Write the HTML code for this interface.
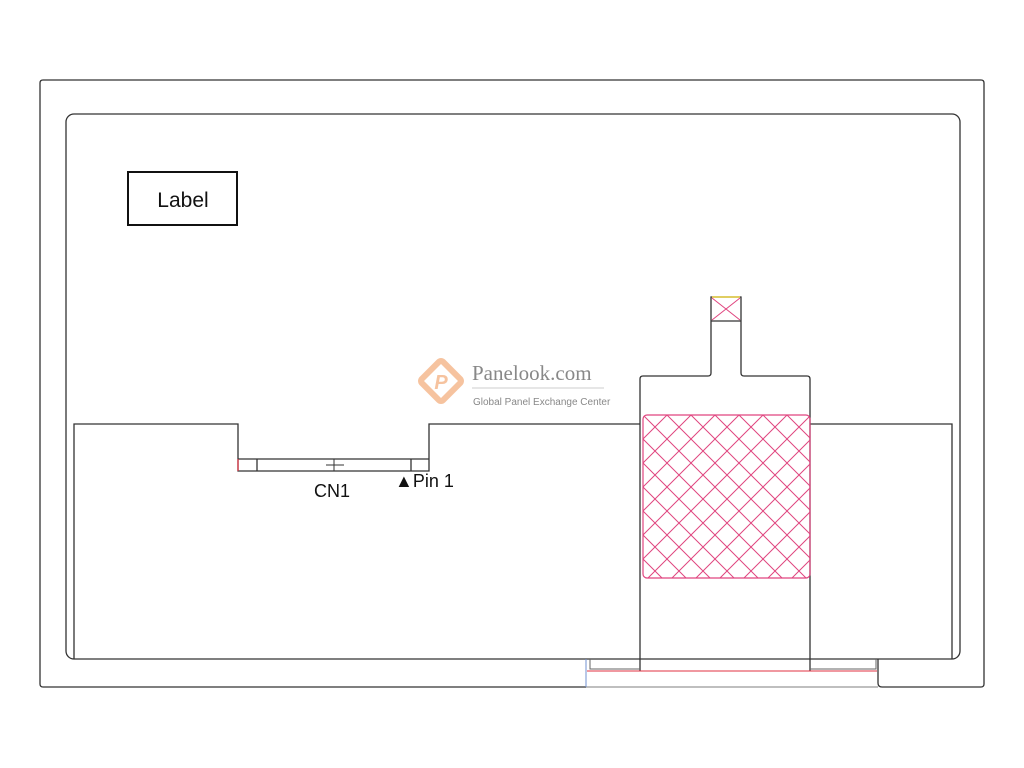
<!DOCTYPE html>
<html><head><meta charset="utf-8"><style>body{margin:0;background:#fff}svg{display:block}</style></head><body>
<svg width="1024" height="768" viewBox="0 0 1024 768" xmlns="http://www.w3.org/2000/svg">
<defs>
<pattern id="h" patternUnits="userSpaceOnUse" width="24" height="24" x="643" y="415">
<path d="M0 0L24 24M24 0L0 24" stroke="#e0457f" stroke-width="1" fill="none"/>
</pattern>
</defs>
<g fill="none" stroke="#333" stroke-width="1.3">
<path d="M586 687H43Q40 687 40 684V83Q40 80 43 80H981Q984 80 984 83V684Q984 687 981 687H882Q878 687 878 683V659"/>
<line x1="586" y1="687" x2="878" y2="687" stroke="#999"/>
<rect x="66" y="114" width="894" height="545" rx="8"/>
<path d="M74 659V424H238V471H429V424H640"/>
<path d="M810 424H952V659"/>
<line x1="238" y1="459" x2="429" y2="459"/>
<line x1="257" y1="459" x2="257" y2="471"/>
<line x1="411" y1="459" x2="411" y2="471"/>
<line x1="326" y1="465" x2="344" y2="465" stroke-width="1"/>
<line x1="334" y1="459" x2="334" y2="471" stroke-width="1"/>
<path d="M640 671V379Q640 376 643 376H708Q711 376 711 373V297H741V373Q741 376 744 376H807Q810 376 810 379V671"/>
<line x1="711" y1="321" x2="741" y2="321"/>
<path d="M590 659V669H640M810 669H876V659" stroke="#666" stroke-width="1"/>
</g>
<line x1="587" y1="671" x2="877" y2="671" stroke="#e03040" stroke-width="1"/>
<line x1="586" y1="659" x2="586" y2="687" stroke="#7090d0" stroke-width="1"/>
<line x1="238" y1="459" x2="238" y2="471" stroke="#e03040" stroke-width="1.2"/>
<line x1="712" y1="297" x2="740" y2="297" stroke="#e8d040" stroke-width="1.5"/>
<rect x="643" y="415" width="167" height="163" rx="4" fill="url(#h)" stroke="#e0457f" stroke-width="1.2"/>
<path d="M712 298L740 320M740 298L712 320" stroke="#e0457f" stroke-width="1"/>
<rect x="128" y="172" width="109" height="53" fill="none" stroke="#111" stroke-width="2"/>
<text x="183" y="207" font-family="Liberation Sans, sans-serif" font-size="21" text-anchor="middle" fill="#111">Label</text>
<text x="332" y="497" font-family="Liberation Sans, sans-serif" font-size="18" text-anchor="middle" fill="#111">CN1</text>
<text x="395" y="487" font-family="Liberation Sans, sans-serif" font-size="18" fill="#111">▲Pin 1</text>
<g opacity="0.85">
<rect x="426" y="366" width="30" height="30" transform="rotate(45 441 381)" fill="none" stroke="#f5b98f" stroke-width="6" rx="3"/>
<text x="441" y="389" font-family="Liberation Sans, sans-serif" font-style="italic" font-weight="bold" font-size="20" text-anchor="middle" fill="#f5b98f">P</text>
</g>
<text x="472" y="380" font-family="Liberation Serif, serif" font-size="21" fill="#888">Panelook.com</text>
<line x1="472" y1="388" x2="604" y2="388" stroke="#ccc"/>
<text x="473" y="405" font-family="Liberation Sans, sans-serif" font-size="10" fill="#888">Global Panel Exchange Center</text>
</svg>
</body></html>
